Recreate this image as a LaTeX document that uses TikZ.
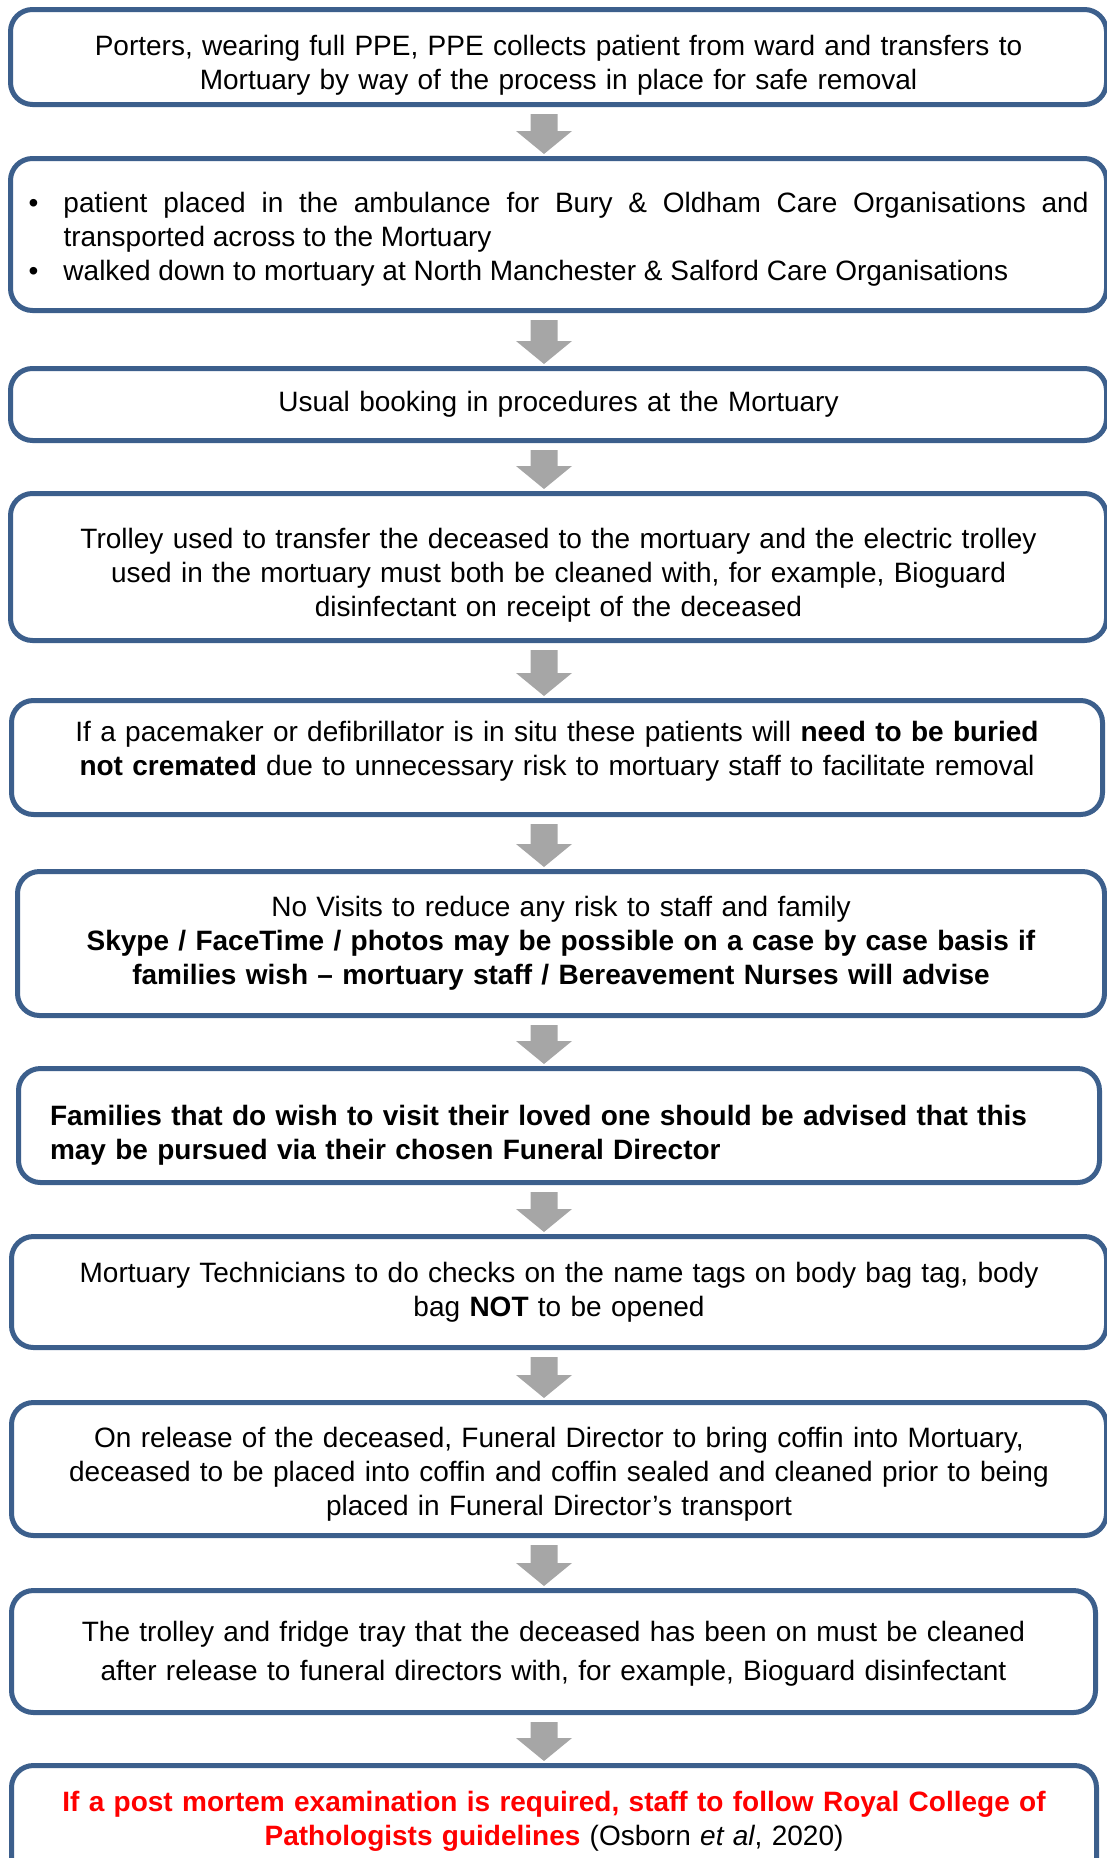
\documentclass[tikz,border=0pt]{standalone}
\usepackage{fontspec}
\setmainfont{Liberation Sans}
\usetikzlibrary{calc}
\definecolor{boxblue}{HTML}{3C5F8C}
\definecolor{arrowgray}{HTML}{A6A6A6}
\begin{document}
\begin{tikzpicture}[
x=0.5pt, y=-0.5pt,
every node/.style={draw=boxblue, line width=2.5pt, rounded corners=11pt, fill=white, inner sep=0pt,
  align=center, text width=520pt, font=\fontsize{14}{17}\selectfont},
stepbox/.style 2 args={minimum width=#1, minimum height=#2},
textdrop/.style={execute at end node={\endgraf\vspace*{#1}}},
flow/.style={fill=arrowgray}
]
\useasboundingbox (0,0) rectangle (1107,1858);
\clip (0,0) rectangle (1107,1858);

\node[stepbox={548pt}{47.5pt}, textdrop=-8pt] (b1) at (558.5,57)
  {Porters, wearing full PPE, PPE collects patient from ward and transfers to\\
   Mortuary by way of the process in place for safe removal};
\node[stepbox={548pt}{76pt}, align=justify, text width=530pt, textdrop=-5pt] (b2) at (558.5,234.5)
  {\hangindent=17.5pt\hangafter=1\makebox[17.5pt][l]{\textbullet}patient placed in the ambulance for Bury \& Oldham Care Organisations and\linebreak transported across to the Mortuary\par
   \hangindent=17.5pt\hangafter=1\makebox[17.5pt][l]{\textbullet}walked down to mortuary at North Manchester \& Salford Care Organisations\par};
\node[stepbox={548pt}{36pt}] (b3) at (558.5,404.5)
  {Usual booking in procedures at the Mortuary};
\node[stepbox={548pt}{73.5pt}, textdrop=-8pt] (b4) at (558.5,567)
  {Trolley used to transfer the deceased to the mortuary and the electric trolley\\
   used in the mortuary must both be cleaned with, for example, Bioguard\\
   disinfectant on receipt of the deceased};
\node[stepbox={545.5pt}{57pt}, textdrop=6pt] (b5) at (557,757.5)
  {If a pacemaker or defibrillator is in situ these patients will \textbf{need to be buried}\\
   \textbf{not cremated} due to unnecessary risk to mortuary staff to facilitate removal};
\node[stepbox={543.5pt}{72pt}] (b6) at (561,943.5)
  {No Visits to reduce any risk to staff and family\\
   \textbf{Skype / FaceTime / photos may be possible on a case by case basis if}\\
   \textbf{families wish – mortuary staff / Bereavement Nurses will advise}};
\node[stepbox={540.5pt}{57pt}, align=left, text width=509pt, textdrop=-9.5pt] (b7) at (559,1125.5)
  {\textbf{Families that do wish to visit their loved one should be advised that this}\\
   \textbf{may be pursued via their chosen Funeral Director}};
\node[stepbox={547.5pt}{55.5pt}] (b8) at (559,1292)
  {Mortuary Technicians to do checks on the name tags on body bag tag, body\\
   bag \textbf{NOT} to be opened};
\node[stepbox={547.5pt}{66.5pt}, textdrop=-5pt] (b9) at (559,1469)
  {On release of the deceased, Funeral Director to bring coffin into Mortuary,\\
   deceased to be placed into coffin and coffin sealed and cleaned prior to being\\
   placed in Funeral Director’s transport};
\node[stepbox={542pt}{61pt}, font=\fontsize{14}{19.5}\selectfont, textdrop=-2.5pt] (b10) at (553.5,1651.5)
  {The trolley and fridge tray that the deceased has been on must be cleaned\\
   after release to funeral directors with, for example, Bioguard disinfectant};
\node[stepbox={542.5pt}{61pt}, textdrop=5pt] (b11) at (554,1826.5)
  {\textcolor{red}{\textbf{If a post mortem examination is required, staff to follow Royal College of}}\\
   \textcolor{red}{\textbf{Pathologists guidelines}} (Osborn \textit{et al}, 2020)};

\foreach \a/\b in {b1/b2, b2/b3, b3/b4, b4/b5, b5/b6, b6/b7, b7/b8, b8/b9, b9/b10, b10/b11}
  \fill[flow] let \p1=(\a.south), \p2=(\b.north) in
    (265.25pt,\y1-3.5pt) -- (278.75pt,\y1-3.5pt) -- (278.75pt,\y2+12.5pt) -- (286pt,\y2+12.5pt)
    -- (272pt,\y2+1pt) -- (258pt,\y2+12.5pt) -- (265.25pt,\y2+12.5pt) -- cycle;
\end{tikzpicture}
\end{document}
